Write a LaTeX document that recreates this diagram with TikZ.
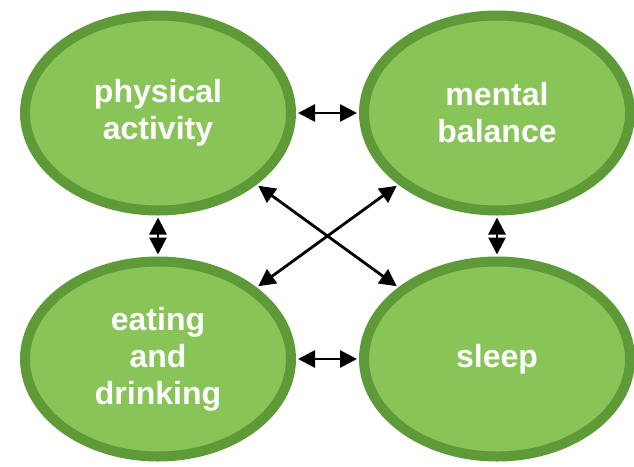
\documentclass[tikz,border=0pt]{standalone}
\usepackage{fontspec}
\setmainfont{Liberation Sans}
\usetikzlibrary{arrows.meta,positioning,shapes.geometric}
\definecolor{leaf}{HTML}{88C457}
\definecolor{rim}{HTML}{5E9A38}
\tikzset{
  area/.style={ellipse,draw=rim,line width=10pt,fill=leaf,minimum width=266pt,
    minimum height=195pt,inner sep=0pt,align=center,text=white,
    font=\fontsize{32}{37}\selectfont\bfseries},
  arr/.style={{Triangle[length=17pt,width=17pt]}-{Triangle[length=17pt,width=17pt]},
    line width=2.8pt,draw=black,shorten <=2pt,shorten >=2pt}
}

\begin{document}
\begin{tikzpicture}[x=1pt,y=1pt]
 \useasboundingbox (0,0) rectangle (634,-466);
 \node[area] (phys) at (158,-113) {physical\\activity};
 \node[area,right=63pt of phys] (mind) {mental\\balance};
 \node[area,below=41pt of phys] (food) {eating\\and\\drinking};
 \node[area,right=63pt of food] (rest) {sleep};
 \draw[arr] (phys)--(mind); \draw[arr] (food)--(rest);
 \draw[arr] (phys)--(food); \draw[arr] (mind)--(rest);
 \draw[arr] (phys)--(rest); \draw[arr] (mind)--(food);
\end{tikzpicture}
\end{document}
